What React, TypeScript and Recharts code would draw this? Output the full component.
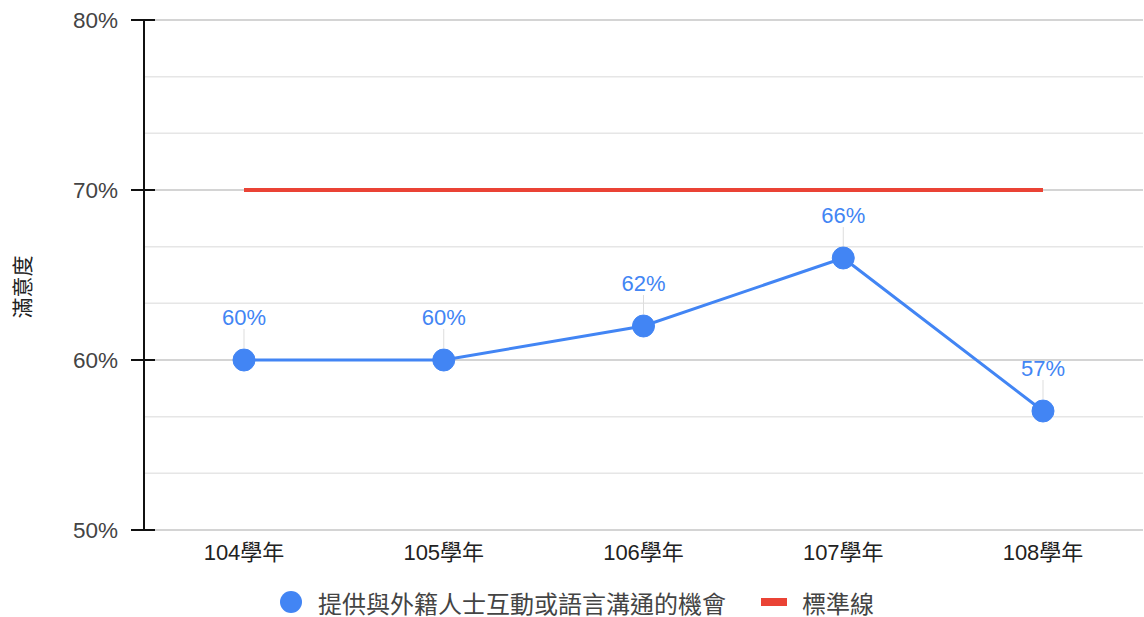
import { CartesianGrid, LabelList, Legend, Line, LineChart, ReferenceLine, XAxis, YAxis } from 'recharts'

// 學年與滿意度資料
const years = ['104學年', '105學年', '106學年', '107學年', '108學年']
const satisfaction = [60, 60, 62, 66, 57]
const standard = [70, 70, 70, 70, 70]
const yTicks = [50, 53.333, 56.667, 60, 63.333, 66.667, 70, 73.333, 76.667, 80]
const majorTicks = [50, 60, 70, 80]

const seriesName = '提供與外籍人士互動或語言溝通的機會'
const standardName = '標準線'
const yTitle = '滿意度'

const BLUE = '#4285F4'
const RED = '#EA4335'
const FONT = 'Arial, "Liberation Sans", "Noto Sans CJK TC", sans-serif'

const data = years.map((year, i) => ({ year, value: satisfaction[i], standard: standard[i] }))

const YTick = (props: any) => {
    const { x, y, payload } = props
    const major = majorTicks.some((t) => Math.abs(t - payload.value) < 0.01)
    if (!major) return null
    return (
        <g>
            <line x1={x - 13} x2={x + 11} y1={y} y2={y} stroke="#111" strokeWidth={2} />
            <text x={x - 26} y={y} dy={8} textAnchor="end" fontSize={22.5} fill="#444" fontFamily={FONT}>
                {Math.round(payload.value)}%
            </text>
        </g>
    )
}

const YTitle = (props: any) => {
    const { viewBox } = props
    const cx = 22
    const cy = viewBox.y + viewBox.height / 2 + 12
    return (
        <text
            x={cx}
            y={cy}
            transform={`rotate(-90 ${cx} ${cy})`}
            textAnchor="middle"
            dominantBaseline="central"
            fontSize={21}
            fill="#222"
            fontFamily={FONT}
        >
            {yTitle}
        </text>
    )
}

const PointLabel = (props: any) => {
    const { x, y, value } = props
    return (
        <g>
            <line x1={x} x2={x} y1={y - 31} y2={y - 12} stroke="#ddd" strokeWidth={1} />
            <text x={x} y={y - 43} dy={8} textAnchor="middle" fontSize={22} fill={BLUE} fontFamily={FONT}>
                {value}%
            </text>
        </g>
    )
}

const LegendContent = () => (
    <div
        style={{
            display: 'flex',
            alignItems: 'center',
            paddingLeft: 279,
            paddingTop: 12,
            fontFamily: FONT,
            fontSize: 24,
            color: '#444',
            height: 40
        }}
    >
        <svg width={24} height={24} style={{ marginRight: 15 }}>
            <circle cx={12} cy={12} r={11} fill={BLUE} />
        </svg>
        <span>{seriesName}</span>
        <svg width={26} height={8} style={{ marginLeft: 35, marginRight: 15 }}>
            <rect x={0} y={0} width={26} height={8} fill={RED} />
        </svg>
        <span>{standardName}</span>
    </div>
)

export default function App() {
    return (
        <div style={{ position: 'absolute', left: 0, top: 0, width: 1144, height: 617, background: '#fff' }}>
            <LineChart width={1144} height={617} data={data} margin={{ top: 20, right: 1, bottom: 4, left: 0 }}>
                <CartesianGrid vertical={false} stroke="#e6e6e6" strokeWidth={1.5} />
                {majorTicks.map((t) => (
                    <ReferenceLine key={t} y={t} stroke="#ccc" strokeWidth={1.5} />
                ))}
                <XAxis
                    dataKey="year"
                    axisLine={false}
                    tickLine={false}
                    padding={{ left: 100, right: 100 }}
                    height={40}
                    tick={{ fontSize: 22, fill: '#222', fontFamily: FONT }}
                    tickMargin={8}
                />
                <YAxis
                    domain={[50, 80]}
                    ticks={yTicks}
                    interval={0}
                    width={144}
                    tickSize={0}
                    tickMargin={0}
                    tickLine={false}
                    axisLine={{ stroke: '#111', strokeWidth: 2 }}
                    tick={<YTick />}
                    label={<YTitle />}
                />
                <Legend verticalAlign="bottom" height={43} content={<LegendContent />} />
                <Line
                    name={standardName}
                    dataKey="standard"
                    stroke={RED}
                    strokeWidth={4}
                    dot={false}
                    activeDot={false}
                    isAnimationActive={false}
                />
                <Line
                    name={seriesName}
                    dataKey="value"
                    stroke={BLUE}
                    strokeWidth={3}
                    dot={{ r: 11, fill: BLUE, stroke: BLUE, strokeWidth: 1 }}
                    isAnimationActive={false}
                >
                    <LabelList dataKey="value" content={<PointLabel />} />
                </Line>
            </LineChart>
        </div>
    )
}
